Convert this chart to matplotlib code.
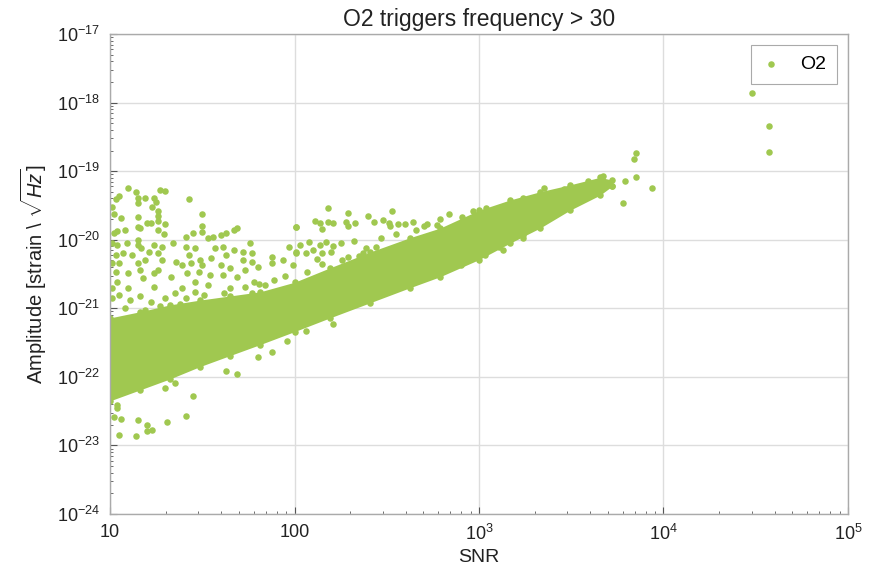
import numpy as np
import matplotlib
matplotlib.use('Agg')
import matplotlib.pyplot as plt
from matplotlib.ticker import LogLocator, FixedLocator, NullFormatter

plt.rcParams['font.family'] = ['Liberation Sans', 'DejaVu Sans']
plt.rcParams['mathtext.fontset'] = 'custom'
plt.rcParams['mathtext.rm'] = 'Liberation Sans'
plt.rcParams['mathtext.it'] = 'Liberation Sans:italic'

GREEN = '#a0c850'

# dense core of the trigger cloud, edges (log10 values)
band_log_snr = [1.0, 1.163, 1.325, 1.488, 1.650, 1.813, 2.0, 2.192, 2.409,
                2.626, 2.789, 3.0, 3.168, 3.331, 3.493, 3.656, 3.721]
band_log_low = [-22.35, -22.19, -22.03, -21.85, -21.69, -21.53, -21.34, -21.14, -20.92,
                -20.70, -20.54, -20.29, -20.05, -19.83, -19.57, -19.35, -19.22]
band_log_high = [-21.14, -21.05, -20.95, -20.88, -20.82, -20.76, -20.62, -20.41, -20.18,
                 -19.97, -19.83, -19.57, -19.42, -19.30, -19.20, -19.09, -19.13]

# individual triggers outside the core (log10 SNR, log10 amplitude)
pts_log_snr = [
    4.48, 4.57, 4.57, 3.85, 3.84, 3.85, 3.78, 3.79, 3.72, 3.94, 3.67, 3.59, 3.46,
    3.35, 3.24, 3.13, 3.04, 2.97, 2.91,
    3.01, 3.03, 3.11, 3.13, 3.24, 3.24, 2.90,
    2.18, 2.29, 2.40, 2.53, 2.01, 2.11, 2.14, 2.15, 2.18, 2.21, 2.28, 2.29, 2.33,
    2.43, 2.48, 2.51, 2.52, 2.56, 2.60, 2.64, 2.72, 2.77,
    2.03, 2.08, 2.14, 2.17, 2.21, 2.01, 2.06, 2.10, 2.15, 2.20, 2.15, 2.29, 2.37,
    2.39, 2.44, 2.07,
    2.21, 2.06, 1.96, 1.88, 1.80,
    1.04, 1.04, 1.02, 1.06, 1.05, 1.15, 1.14, 1.20, 1.20, 1.23, 1.31, 1.41, 1.45,
    1.35, 1.30, 1.63, 1.69,
    1.10, 1.14, 1.27, 1.30, 1.05, 1.03, 1.15, 1.19, 1.24, 1.25, 1.43, 1.15, 1.01,
    1.02, 1.26, 1.23, 1.26, 1.06, 1.15, 1.20, 1.22, 1.26, 1.30, 1.15, 1.16, 1.04,
    1.08, 1.02, 1.26, 1.29, 1.41, 1.45, 1.50,
    1.01, 1.04, 1.09, 1.15, 1.15, 1.17, 1.24, 1.28, 1.34, 1.03, 1.07, 1.12, 1.21,
    1.26, 1.41, 1.46, 1.43, 1.01, 1.05, 1.15, 1.19, 1.28, 1.36, 1.39, 1.44, 1.49,
    1.03, 1.10, 1.16, 1.24, 1.26, 1.33, 1.42, 1.48, 1.18, 1.04, 1.01, 1.10, 1.24,
    1.39, 1.46,
    1.50, 1.50, 2.01, 1.67, 1.63, 1.60, 1.56, 1.53, 1.69, 1.61, 1.57, 1.67, 1.72,
    1.76, 1.77, 1.55, 1.63, 1.72, 1.77, 1.88, 1.97, 2.01, 1.50, 1.60, 1.65, 1.73,
    1.80, 1.88, 1.94, 1.99, 1.54, 1.61, 1.69, 1.84, 1.78, 1.53, 1.62, 1.57, 1.77,
    1.01, 1.05, 1.11, 1.16, 1.22, 1.30, 1.35, 1.41, 1.08, 1.19, 1.27, 1.38, 1.46,
    1.51, 1.65, 1.73, 1.81, 1.89, 1.95,
    2.25, 2.32, 2.47, 2.55, 2.66, 2.70, 2.79, 2.84, 2.12, 2.26, 2.35,
]
pts_log_amp = [
    -17.86, -18.34, -18.72, -18.73, -18.82, -19.08, -19.46, -19.14, -19.22, -19.25,
    -19.07, -19.14, -19.26, -19.25, -19.39, -19.52, -19.54, -19.58, -19.67,
    -20.19, -20.22, -20.11, -20.15, -19.97, -19.93, -20.37,
    -19.54, -19.61, -19.65, -19.58, -19.81, -19.73, -19.76, -19.84, -19.74, -19.76,
    -19.74, -19.80, -19.76, -19.74, -19.71, -19.76, -19.80, -19.77, -19.77, -19.74,
    -19.77, -19.78,
    -20.08, -20.03, -20.08, -20.03, -20.09, -20.19, -20.19, -20.15, -20.19, -20.18,
    -20.35, -20.25, -20.19, -20.12, -20.11, -20.47,
    -21.23, -21.33, -21.48, -21.64, -21.71,
    -22.41, -22.45, -22.58, -22.61, -22.85, -22.63, -22.86, -22.70, -22.79, -22.77,
    -22.66, -22.57, -22.28, -22.09, -22.16, -21.91, -21.96,
    -19.25, -19.30, -19.27, -19.29, -19.36, -19.41, -19.39, -19.39, -19.39, -19.45,
    -19.41, -19.46, -19.52, -19.62, -19.58, -19.52, -19.65, -19.68, -19.67, -19.76,
    -19.76, -19.73, -19.77, -19.81, -19.83, -19.87, -19.86, -19.90, -19.86, -19.92,
    -19.96, -19.90, -19.89,
    -20.05, -20.08, -20.05, -20.00, -20.08, -20.12, -20.08, -20.11, -20.05, -20.22,
    -20.19, -20.22, -20.18, -20.19, -20.11, -20.12, -20.22, -20.34, -20.34, -20.34,
    -20.29, -20.29, -20.32, -20.37, -20.34, -20.29, -20.47, -20.48, -20.44, -20.48,
    -20.44, -20.54, -20.48, -20.47, -20.56, -20.62, -20.70, -20.70, -20.69, -20.70,
    -20.62,
    -19.62, -19.80, -19.81, -19.86, -19.90, -19.93, -19.96, -19.97, -19.83, -20.11,
    -20.12, -20.15, -20.18, -20.05, -20.19, -20.27, -20.22, -20.29, -20.32, -20.25,
    -20.11, -20.18, -20.37, -20.37, -20.41, -20.44, -20.40, -20.34, -20.29, -20.37,
    -20.51, -20.51, -20.54, -20.66, -20.62, -20.66, -20.78, -20.91, -20.78,
    -20.85, -20.80, -20.88, -20.82, -20.91, -20.85, -20.78, -20.85, -20.99, -21.02,
    -20.97, -20.94, -20.76, -20.80, -20.70, -20.69, -20.64, -20.59, -20.53,
    -20.05, -20.02, -19.98, -19.92, -19.86, -19.80, -19.70, -19.62, -20.28, -20.30,
    -20.24,
]

band_snr = 10 ** np.array(band_log_snr)
band_low = 10 ** np.array(band_log_low)
band_high = 10 ** np.array(band_log_high)
snr = 10 ** np.array(pts_log_snr)
amp = 10 ** np.array(pts_log_amp)

fig = plt.figure(figsize=(8.78, 5.69), dpi=100)
ax = fig.add_axes([0.1253, 0.0967, 0.8405, 0.8435])
ax.set_axisbelow(True)

ax.fill_between(band_snr, band_low, band_high, color=GREEN, lw=0, zorder=2)
ax.scatter(band_snr, band_low, s=22, color=GREEN, lw=0, zorder=2)
ax.scatter(band_snr, band_high, s=22, color=GREEN, lw=0, zorder=2)
ax.scatter(snr, amp, s=22, color=GREEN, lw=0, zorder=2, label='O2')

ax.set_xscale('log')
ax.set_yscale('log')
ax.set_xlim(10, 1e5)
ax.set_ylim(1e-24, 1e-17)

ax.xaxis.set_major_locator(FixedLocator([10, 100, 1e3, 1e4, 1e5]))
ax.set_xticklabels(['10', '100', '$10^3$', '$10^4$', '$10^5$'])
ax.xaxis.set_minor_locator(LogLocator(base=10, subs=np.arange(2, 10), numticks=20))
ax.xaxis.set_minor_formatter(NullFormatter())
yt = [1e-24, 1e-23, 1e-22, 1e-21, 1e-20, 1e-19, 1e-18, 1e-17]
ax.yaxis.set_major_locator(FixedLocator(yt))
ax.set_yticklabels(['$10^{-%d}$' % e for e in range(24, 16, -1)])
ax.yaxis.set_minor_locator(LogLocator(base=10, subs=np.arange(2, 10), numticks=20))
ax.yaxis.set_minor_formatter(NullFormatter())

ax.tick_params(which='both', direction='in', colors='#555555', labelcolor='#222222',
               labelsize=13, top=False, right=False)
ax.tick_params(which='major', length=5, width=0.8)
ax.tick_params(which='minor', length=2.5, width=0.6)
ax.tick_params(axis='x', which='major', pad=7.5)
ax.tick_params(axis='y', which='major', pad=7)
for sp in ax.spines.values():
    sp.set_color('#aaaaaa')
    sp.set_linewidth(1.0)

ax.grid(True, which='major', color='#dddddd', lw=1.0)

ax.set_title('O2 triggers frequency > 30', fontsize=16.5, color='#222222', pad=6)
ax.set_xlabel('SNR', fontsize=14, color='#222222', labelpad=3)
ax.set_ylabel('Amplitude [strain \\ $\\sqrt{Hz}$]', fontsize=14.5, color='#222222',
              labelpad=6)

leg = ax.legend(loc='upper right', scatterpoints=1, fontsize=14, fancybox=False,
                edgecolor='#aaaaaa', framealpha=1, borderpad=0.55, handlelength=1.0,
                handletextpad=1.0, borderaxespad=0.55)
leg.get_frame().set_linewidth(0.8)

fig.savefig('out.png', dpi=100)
